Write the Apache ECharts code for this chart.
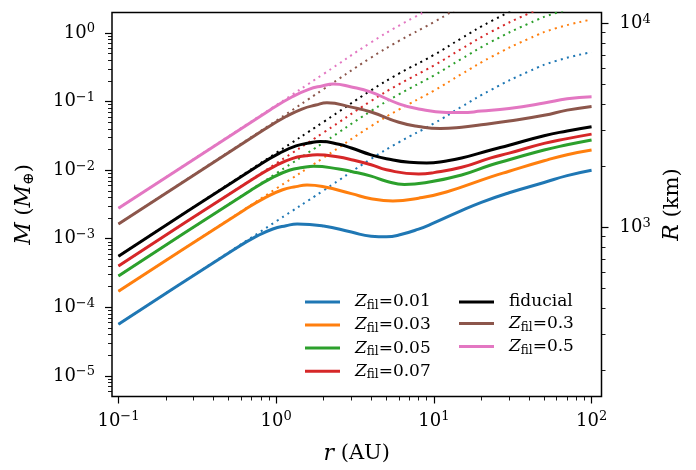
<!DOCTYPE html>
<html>
<head>
<meta charset="utf-8">
<script src="https://cdn.jsdelivr.net/npm/echarts@6/dist/echarts.min.js"></script>
<style>
  html, body { margin: 0; padding: 0; background: #fff; }
  #chart { width: 696px; height: 470px; }
</style>
</head>
<body>
<div id="chart"></div>
<script>
// 图例名与颜色 (matplotlib tab10 + 黑色 fiducial)
const seriesNames = ['Z=0.01', 'Z=0.03', 'Z=0.05', 'Z=0.07', 'fiducial', 'Z=0.3', 'Z=0.5'];
const seriesColors = ['#1f77b4', '#ff7f0e', '#2ca02c', '#d62728', '#000000', '#8c564b', '#e377c2'];

// 实线: [r (AU), M (M_earth)]
const solid001 = [[0.1, 5.65e-5], [0.544, 7.02e-4], [0.748, 1.079e-3], [0.952, 1.387e-3], [1.156, 1.549e-3],
  [1.36, 1.64e-3], [2, 1.53e-3], [3, 1.25e-3], [4, 1.09e-3], [5, 1.07e-3], [6, 1.13e-3], [8, 1.38e-3],
  [10, 1.70e-3], [14, 2.40e-3], [20, 3.39e-3], [30, 4.68e-3], [50, 6.61e-3], [70, 8.32e-3], [100, 9.97e-3]];
const solid003 = [[0.1, 1.71e-4], [0.628, 2.627e-3], [0.864, 4.04e-3], [1.099, 5.18e-3], [1.335, 5.75e-3],
  [1.57, 6.06e-3], [2, 5.73e-3], [3, 4.55e-3], [4, 3.83e-3], [5.5, 3.56e-3], [8, 3.9e-3], [12, 4.8e-3],
  [23, 7.98e-3], [30, 9.64e-3], [50, 0.0137], [70, 0.0168], [100, 0.0197]];
const solid005 = [[0.1, 2.87e-4], [0.692, 5.10e-3], [0.952, 7.83e-3], [1.211, 9.95e-3], [1.471, 0.01091],
  [1.73, 0.01138], [2.5, 0.0104], [3, 0.00957], [4, 0.00817], [5, 0.0069], [6.5, 0.00618], [9, 0.0066],
  [15, 0.0085], [23, 0.01188], [30, 0.01416], [50, 0.0197], [70, 0.0234], [100, 0.0275]];
const solid007 = [[0.1, 4.0e-4], [0.728, 7.67e-3], [1.001, 0.01175], [1.274, 0.01486], [1.547, 0.01618],
  [1.82, 0.0167], [2.5, 0.0155], [3, 0.0142], [4, 0.0120], [5, 0.0101], [8, 0.0088], [10, 0.0092],
  [15, 0.011], [23, 0.0151], [30, 0.0177], [50, 0.0246], [70, 0.0288], [100, 0.0335]];
const solidFid = [[0.1, 5.57e-4], [0.764, 0.01151], [1.051, 0.0177], [1.337, 0.02254], [1.624, 0.02489],
  [1.91, 0.0261], [2.5, 0.0238], [3, 0.021], [4, 0.0167], [5, 0.0147], [7, 0.0130], [9, 0.0127],
  [12, 0.0136], [15, 0.0150], [23, 0.0197], [30, 0.0231], [50, 0.0318], [70, 0.0372], [100, 0.0429]];
const solid03 = [[0.1, 1.64e-3], [0.84, 0.0391], [1.155, 0.0605], [1.47, 0.0785], [1.785, 0.0889],
  [2.1, 0.096], [3, 0.083], [4, 0.0705], [6, 0.0499], [8, 0.0433], [11, 0.0405], [15, 0.0422],
  [20, 0.0458], [30, 0.0519], [50, 0.063], [70, 0.075], [100, 0.085]];
const solid05 = [[0.1, 2.79e-3], [0.92, 0.0762], [1.265, 0.1175], [1.61, 0.151], [1.955, 0.169],
  [2.3, 0.180], [3, 0.163], [4, 0.137], [6, 0.0928], [8, 0.078], [12, 0.0694], [15, 0.069],
  [20, 0.0726], [30, 0.0794], [50, 0.095], [70, 0.1096], [100, 0.118]];

// 点线 (无反馈的延伸)
const dotted001 = [[0.1, 5.65e-5], [1, 1.79e-3], [2, 5.06e-3], [4, 0.0146], [6, 0.0255], [10, 0.0479],
  [15, 0.084], [23, 0.148], [40, 0.275], [60, 0.394], [100, 0.525]];
const dotted003 = [[0.1, 1.71e-4], [1, 5.37e-3], [2, 0.0152], [4, 0.0438], [6, 0.0765], [10, 0.144],
  [15, 0.252], [23, 0.444], [40, 0.825], [60, 1.18], [100, 1.57]];
const dotted005 = [[0.1, 2.87e-4], [1, 8.95e-3], [2, 0.0253], [4, 0.073], [6, 0.1275], [10, 0.24],
  [15, 0.42], [23, 0.74], [40, 1.375], [60, 1.97], [100, 2.62]];
const dotted007 = [[0.1, 4.0e-4], [1, 0.01253], [2, 0.0354], [4, 0.102], [6, 0.1785], [10, 0.335],
  [15, 0.588], [23, 1.036], [40, 1.925], [60, 2.76]];
const dottedFid = [[0.1, 5.57e-4], [1, 0.0178], [2, 0.0506], [4, 0.146], [6, 0.255], [10, 0.479],
  [15, 0.84], [23, 1.48], [40, 2.75]];
const dotted03 = [[0.1, 1.64e-3], [1, 0.0525], [2, 0.152], [4, 0.438], [6, 0.765], [10, 1.44], [15, 2.52]];
const dotted05 = [[0.1, 2.79e-3], [1, 0.0885], [2, 0.253], [4, 0.73], [6, 1.275], [10, 2.4]];

// 刻度
const rTicks = [0.1, 1, 10, 100];
const mTicks = [1e-5, 1e-4, 1e-3, 1e-2, 1e-1, 1];
const kmTicks = [1000, 10000];

const solidData = [solid001, solid003, solid005, solid007, solidFid, solid03, solid05];
const dottedData = [dotted001, dotted003, dotted005, dotted007, dottedFid, dotted03, dotted05];

// 对数次刻度 2..9 × 10^e
function minorTicks(eLo, eHi) {
  const out = [];
  for (let e = eLo; e <= eHi; e++) {
    for (let k = 2; k <= 9; k++) out.push(k * Math.pow(10, e));
  }
  return out;
}

const serif = "'DejaVu Serif', 'Liberation Serif', serif";
const supRich = {
  b: { fontFamily: serif, fontSize: 18, lineHeight: 21, color: '#000' },
  s: { fontFamily: serif, fontSize: 13, lineHeight: 11, verticalAlign: 'top', color: '#000' }
};
function powLabel(v) {
  const e = Math.round(Math.log10(v));
  return '{b|10}{s|' + String(e).replace('-', '\u2212') + '}';
}

const nameRich = {
  i: { fontFamily: serif, fontStyle: 'italic', fontSize: 22, lineHeight: 25, color: '#000' },
  t: { fontFamily: serif, fontSize: 21, lineHeight: 25, color: '#000' },
  sub: { fontFamily: serif, fontSize: 15, lineHeight: 15, verticalAlign: 'bottom', color: '#000' }
};

const tickStyle = { color: '#000', width: 1.2 };
const minorStyle = { color: '#000', width: 0.9 };

function majorAxis(pos, min, max, ticks, margin, extra) {
  return Object.assign({
    type: 'log', position: pos, min: min, max: max,
    axisLine: { show: false }, splitLine: { show: false },
    axisTick: { show: true, length: 7, lineStyle: tickStyle, customValues: ticks },
    axisLabel: { customValues: ticks, formatter: powLabel, margin: margin, rich: supRich }
  }, extra);
}
function minorAxis(pos, min, max, ticks) {
  return {
    type: 'log', position: pos, min: min, max: max,
    axisLine: { show: false }, splitLine: { show: false },
    axisTick: { show: true, length: 4, lineStyle: minorStyle, customValues: ticks },
    axisLabel: { show: false }
  };
}

const xMin = 0.091, xMax = 115.6;
const yMin = 5.0e-6, yMax = 1.99;
const kmMin = 148, kmMax = 11280;

const chart = echarts.init(document.getElementById('chart'));

const series = [];
// 点线放在实线下面，重叠段被实线盖住
dottedData.forEach((d, i) => {
  series.push({
    type: 'line', data: d, xAxisIndex: 0, yAxisIndex: 0,
    showSymbol: false, smooth: 0.5, z: 2, silent: true,
    lineStyle: { width: 2, color: seriesColors[i], type: [2, 4.3] }
  });
});
solidData.forEach((d, i) => {
  series.push({
    name: seriesNames[i], type: 'line', data: d, xAxisIndex: 0, yAxisIndex: 0,
    showSymbol: false, smooth: 0.5, z: 3,
    itemStyle: { color: seriesColors[i] },
    lineStyle: { width: 3, color: seriesColors[i] }
  });
});

const legendRich = {
  sp: { width: 10 },
  i: { fontFamily: serif, fontStyle: 'italic', fontSize: 17, lineHeight: 20, color: '#000' },
  t: { fontFamily: serif, fontSize: 17, lineHeight: 20, color: '#000' },
  sub: { fontFamily: serif, fontSize: 12, lineHeight: 12, verticalAlign: 'bottom', color: '#000' }
};
function legendLabel(name) {
  if (name === 'fiducial') return '{sp| }{t|fiducial}';
  return '{sp| }{i|Z}{sub|fil}{t|=' + name.split('=')[1] + '}';
}
function legendAt(names, left) {
  return {
    data: names, orient: 'vertical', left: left, top: 293.4, padding: 0,
    itemGap: 4.6, itemWidth: 35, itemHeight: 3, icon: 'rect',
    formatter: legendLabel, textStyle: { rich: legendRich }
  };
}

chart.setOption({
  animation: false,
  backgroundColor: '#fff',
  grid: {
    left: 112, top: 12.5, width: 489.5, height: 389,
    show: true, borderColor: '#000', borderWidth: 1.5, backgroundColor: 'transparent'
  },
  legend: [legendAt(seriesNames.slice(0, 4), 305), legendAt(seriesNames.slice(4), 459)],
  xAxis: [
    majorAxis('bottom', xMin, xMax, rTicks, 14, {
      name: '{i|r}{t| (AU)}', nameLocation: 'middle', nameGap: 45,
      nameTextStyle: { rich: nameRich }
    }),
    minorAxis('bottom', xMin, xMax, minorTicks(-1, 1))
  ],
  yAxis: [
    majorAxis('left', yMin, yMax, mTicks, 17, {
      name: '{i|M}{t| (}{i|M}{sub|\u2295}{t|)}', nameLocation: 'middle', nameGap: 75, nameRotate: 90,
      nameTextStyle: { rich: nameRich }
    }),
    minorAxis('left', yMin, yMax, minorTicks(-6, -1).filter(v => v >= yMin)),
    majorAxis('right', kmMin, kmMax, kmTicks, 18, {
      name: '{i|R}{t| (km)}', nameLocation: 'middle', nameGap: 57, nameRotate: 90,
      nameTextStyle: { rich: nameRich }
    }),
    minorAxis('right', kmMin, kmMax, minorTicks(2, 3))
  ],
  series: series
});
</script>
</body>
</html>
